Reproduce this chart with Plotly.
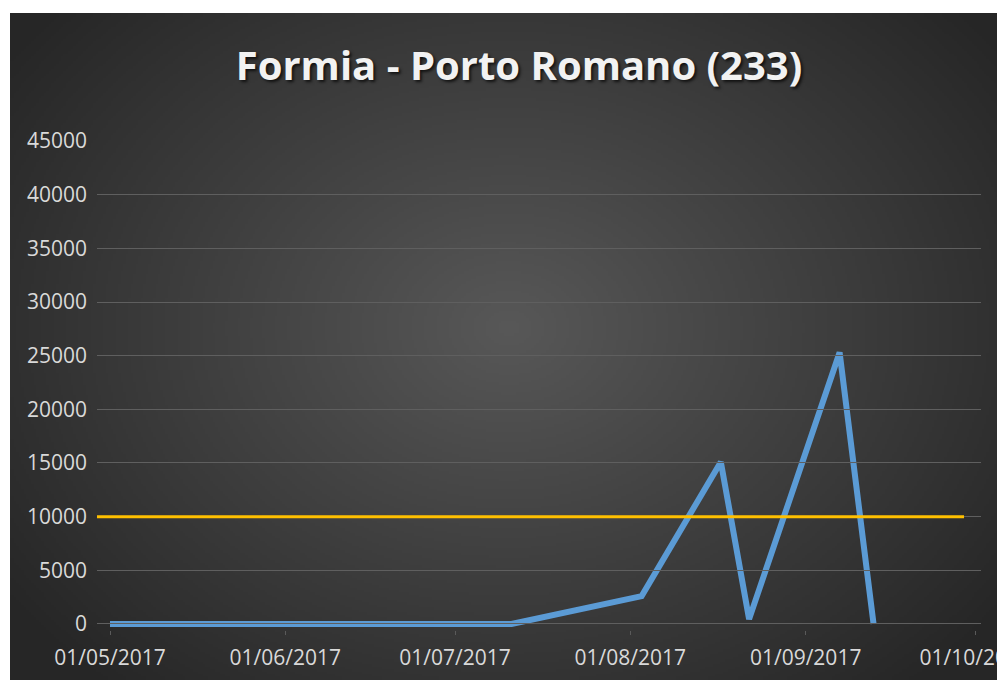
import base64
import struct
import zlib

import numpy as np
import plotly.graph_objects as go

# data
dates = ["2017-05-01", "2017-07-11", "2017-08-03", "2017-08-17", "2017-08-22", "2017-09-07", "2017-09-13"]
values = [0, 0, 2600, 15100, 450, 25300, 0]
limit_dates = ["2017-04-28", "2017-09-29"]
limit_values = [10000, 10000]
title_text = "Formia - Porto Romano (233)"

# page has an 8px body margin, so the figure is a bit smaller than the window
W, H = 997, 672
ml, mr, mt, mb = 89, 24, 133, 50
plot_w = W - ml - mr
plot_h = H - mt - mb


def gradient_uri(w=400, h=270):
    # radial gradient like the Excel dark chart style
    yy, xx = np.mgrid[0:h, 0:w]
    cx, cy = 0.5 * w, 0.47 * h
    d = np.sqrt(((xx - cx) / (0.62 * w)) ** 2 + ((yy - cy) / (0.72 * h)) ** 2)
    t = np.clip(d, 0, 1)
    c0, c1 = 88.0, 38.0
    v = (c0 + (c1 - c0) * t).astype(np.uint8)
    arr = np.stack([v, v, v], axis=-1)
    raw = b"".join(b"\x00" + row.tobytes() for row in arr)

    def chunk(tag, data):
        return struct.pack(">I", len(data)) + tag + data + struct.pack(">I", zlib.crc32(tag + data) & 0xffffffff)

    png = (b"\x89PNG\r\n\x1a\n"
           + chunk(b"IHDR", struct.pack(">IIBBBBB", w, h, 8, 2, 0, 0, 0))
           + chunk(b"IDAT", zlib.compress(raw, 9))
           + chunk(b"IEND", b""))
    return "data:image/png;base64," + base64.b64encode(png).decode()


def px_x(p):
    return (p - ml) / plot_w


def px_y(p):
    return (H - mb - p) / plot_h


fig = go.Figure()

fig.add_trace(go.Scatter(
    x=limit_dates, y=limit_values, mode="lines",
    line=dict(color="#FFC000", width=3),
    xaxis="x2", yaxis="y", showlegend=False, hoverinfo="skip",
))

fig.add_trace(go.Scatter(
    x=dates, y=values, mode="lines",
    line=dict(color="#5B9BD5", width=6),
    showlegend=False,
))

font_main = "Open Sans, Lato, sans-serif"

fig.update_layout(
    width=W, height=H,
    margin=dict(l=ml, r=mr, t=mt, b=mb, autoexpand=False),
    paper_bgcolor="white",
    plot_bgcolor="rgba(0,0,0,0)",
    template="none",
    title=dict(
        text=title_text,
        x=511 / W, xref="container", xanchor="center",
        y=1 - 58 / H, yref="container", yanchor="middle",
        font=dict(family=font_main, size=40, color="#f2f2f2", weight="bold",
                  shadow="2px 2px 3px rgba(0,0,0,0.7)"),
    ),
    xaxis=dict(
        type="date",
        domain=[(102 - ml) / plot_w, 1],
        range=["2017-05-01", "2017-10-02"],
        tick0="2017-05-01", dtick="M1", tickformat="%d/%m/%Y",
        ticks="outside", ticklen=4, tickcolor="#5a5a5a", tickwidth=1,
        ticklabelstandoff=5, ticklabeloverflow="allow",
        showgrid=False, zeroline=False, showline=False,
        tickfont=dict(family=font_main, size=21, color="#d9d9d9"),
        automargin=False,
    ),
    xaxis2=dict(
        type="date",
        domain=[0, 1],
        range=["2017-04-28 16:00", "2017-10-02"],
        anchor="y",
        visible=False,
        showgrid=False,
    ),
    yaxis=dict(
        range=[-560, 45000],
        tickvals=list(range(0, 45001, 5000)),
        tickformat="d",
        showgrid=True, gridcolor="#5f5f5f", gridwidth=1,
        zeroline=False, showline=False,
        ticks="", ticklabelstandoff=22,
        tickfont=dict(family=font_main, size=21, color="#d9d9d9"),
        automargin=False,
    ),
    images=[dict(
        source=gradient_uri(),
        xref="paper", yref="paper",
        x=px_x(2), y=px_y(5),
        sizex=px_x(W) - px_x(2), sizey=px_y(5) - px_y(H),
        xanchor="left", yanchor="top",
        sizing="stretch", layer="below",
    )],
    hovermode=False,
)

fig.write_html("out.html")
